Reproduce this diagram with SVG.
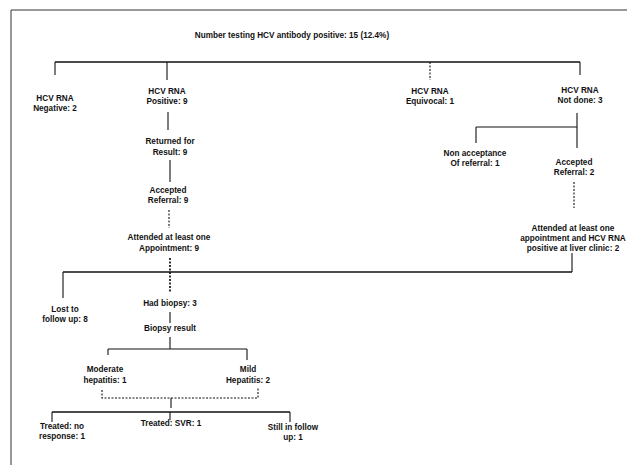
<svg xmlns="http://www.w3.org/2000/svg" width="627" height="465" viewBox="0 0 627 465">
<style>
text{font-family:"Liberation Sans",Arial,sans-serif;font-size:8.2px;font-weight:bold;fill:#111;text-anchor:middle}
.c line,.c path{stroke:#111;fill:none;stroke-width:1.1}
.c .thick{stroke-width:1.7}
.c .dash{stroke-dasharray:2 1.5}
.frame{stroke:#333;stroke-width:1;fill:none}
</style>
<rect width="627" height="465" fill="#fff"/>
<path class="frame" d="M11,465 V10 H627"/>
<g class="c" id="connectors">
<line class="thick" x1="55" y1="62" x2="580" y2="62"/>
<line x1="55" y1="62" x2="55" y2="75"/>
<line x1="167" y1="62" x2="167" y2="80"/>
<line class="dash" x1="430" y1="62" x2="430" y2="80"/>
<line x1="580" y1="62" x2="580" y2="75"/>
<line x1="168" y1="112" x2="168" y2="130"/>
<line x1="170" y1="160" x2="170" y2="182"/>
<line class="dash" x1="169" y1="210" x2="169" y2="228"/>
<line x1="577" y1="113" x2="577" y2="148"/>
<line x1="476" y1="127" x2="577" y2="127"/>
<line x1="476" y1="127" x2="476" y2="143"/>
<line class="dash" x1="574" y1="182" x2="574" y2="208"/>
<line x1="572" y1="253" x2="572" y2="272"/>
<line class="thick" x1="63" y1="272" x2="572" y2="272"/>
<line x1="63" y1="272" x2="63" y2="298"/>
<line class="thick dash" x1="170" y1="258" x2="170" y2="293"/>
<line x1="170" y1="312" x2="170" y2="323"/>
<line x1="170" y1="337" x2="170" y2="349"/>
<line x1="108" y1="349" x2="247" y2="349"/>
<line x1="108" y1="349" x2="108" y2="355"/>
<line x1="247" y1="349" x2="247" y2="360"/>
<path class="dash" d="M102,390 V398 H258 V388"/>
<line x1="171" y1="398" x2="171" y2="408"/>
<line class="thick" x1="52" y1="412" x2="290" y2="412"/>
<line x1="52" y1="412" x2="52" y2="422"/>
<line x1="170" y1="412" x2="170" y2="420"/>
<line x1="290" y1="412" x2="290" y2="422"/>
</g>
<g id="title"><text x="292" y="38">Number testing HCV antibody positive: 15 (12.4%)</text></g>
<g id="neg"><text x="55" y="101">HCV RNA</text><text x="55" y="111">Negative: 2</text></g>
<g id="pos"><text x="167" y="94">HCV RNA</text><text x="167" y="104">Positive: 9</text></g>
<g id="equiv"><text x="430" y="94">HCV RNA</text><text x="430" y="104">Equivocal: 1</text></g>
<g id="notdone"><text x="580" y="93">HCV RNA</text><text x="580" y="103">Not done: 3</text></g>
<g id="returned"><text x="170" y="144">Returned for</text><text x="170" y="155">Result: 9</text></g>
<g id="accepted9"><text x="168" y="193">Accepted</text><text x="168" y="203">Referral: 9</text></g>
<g id="attended9"><text x="169" y="240">Attended at least one</text><text x="169" y="251">Appointment: 9</text></g>
<g id="nonaccept"><text x="475" y="156">Non acceptance</text><text x="475" y="166">Of referral: 1</text></g>
<g id="accepted2"><text x="574" y="165">Accepted</text><text x="574" y="175">Referral: 2</text></g>
<g id="attended2"><text x="573" y="231">Attended at least one</text><text x="573" y="241">appointment and HCV RNA</text><text x="573" y="251">positive at liver clinic: 2</text></g>
<g id="lost"><text x="65" y="312">Lost to</text><text x="65" y="322">follow up: 8</text></g>
<g id="biopsy"><text x="170" y="306">Had biopsy: 3</text></g>
<g id="biopsyresult"><text x="170" y="331">Biopsy result</text></g>
<g id="moderate"><text x="105" y="372">Moderate</text><text x="105" y="383">hepatitis: 1</text></g>
<g id="mild"><text x="248" y="372">Mild</text><text x="248" y="383">Hepatitis: 2</text></g>
<g id="noresp"><text x="62" y="429">Treated: no</text><text x="62" y="439">response: 1</text></g>
<g id="svr"><text x="171" y="426">Treated: SVR: 1</text></g>
<g id="still"><text x="293" y="430">Still in follow</text><text x="293" y="440">up: 1</text></g>
</svg>
